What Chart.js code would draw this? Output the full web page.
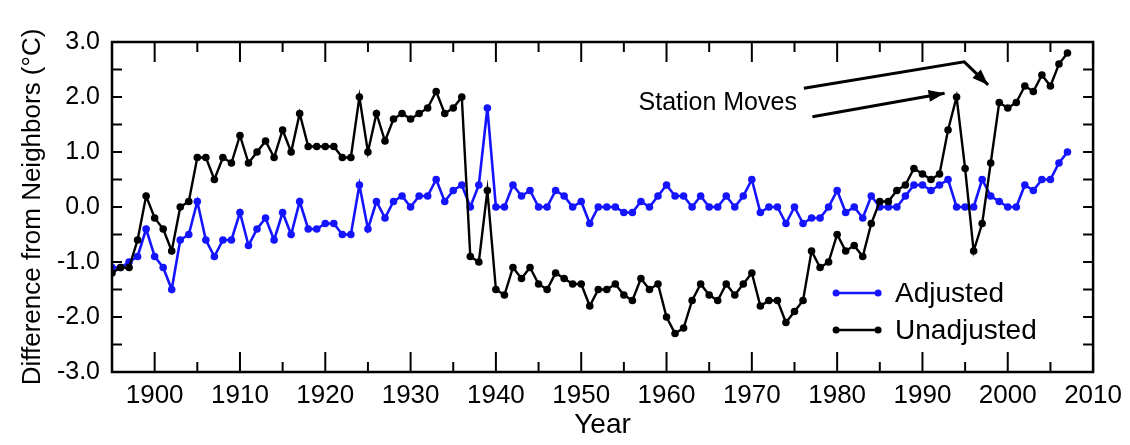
<!DOCTYPE html>
<html>
<head>
<meta charset="utf-8">
<script src="https://cdn.jsdelivr.net/npm/chart.js@4.4.1/dist/chart.umd.min.js"></script>
<style>
  body { margin: 0; background: #fff; }
  #wrap { width: 1130px; height: 445px; }
</style>
</head>
<body>
<div id="wrap"><canvas id="chart_neighbors" width="1130" height="445"></canvas></div>
<script>
var years = [1895, 1896, 1897, 1898, 1899, 1900, 1901, 1902, 1903, 1904,
  1905, 1906, 1907, 1908, 1909, 1910, 1911, 1912, 1913, 1914,
  1915, 1916, 1917, 1918, 1919, 1920, 1921, 1922, 1923, 1924,
  1925, 1926, 1927, 1928, 1929, 1930, 1931, 1932, 1933, 1934,
  1935, 1936, 1937, 1938, 1939, 1940, 1941, 1942, 1943, 1944,
  1945, 1946, 1947, 1948, 1949, 1950, 1951, 1952, 1953, 1954,
  1955, 1956, 1957, 1958, 1959, 1960, 1961, 1962, 1963, 1964,
  1965, 1966, 1967, 1968, 1969, 1970, 1971, 1972, 1973, 1974,
  1975, 1976, 1977, 1978, 1979, 1980, 1981, 1982, 1983, 1984,
  1985, 1986, 1987, 1988, 1989, 1990, 1991, 1992, 1993, 1994,
  1995, 1996, 1997, 1998, 1999, 2000, 2001, 2002, 2003, 2004,
  2005, 2006, 2007];

var adjusted = [-1.1, -1.1, -1.0, -0.9, -0.4, -0.9, -1.1, -1.5, -0.6, -0.5,
  0.1, -0.6, -0.9, -0.6, -0.6, -0.1, -0.7, -0.4, -0.2, -0.6,
  -0.1, -0.5, 0.1, -0.4, -0.4, -0.3, -0.3, -0.5, -0.5, 0.4,
  -0.4, 0.1, -0.2, 0.1, 0.2, 0.0, 0.2, 0.2, 0.5, 0.1,
  0.3, 0.4, 0.0, 0.4, 1.8, 0.0, 0.0, 0.4, 0.2, 0.3,
  0.0, 0.0, 0.3, 0.2, 0.0, 0.1, -0.3, 0.0, 0.0, 0.0,
  -0.1, -0.1, 0.1, 0.0, 0.2, 0.4, 0.2, 0.2, 0.0, 0.2,
  0.0, 0.0, 0.2, 0.0, 0.2, 0.5, -0.1, 0.0, 0.0, -0.3,
  0.0, -0.3, -0.2, -0.2, 0.0, 0.3, -0.1, 0.0, -0.2, 0.2,
  0.0, 0.0, 0.0, 0.2, 0.4, 0.4, 0.3, 0.4, 0.5, 0.0,
  0.0, 0.0, 0.5, 0.2, 0.1, 0.0, 0.0, 0.4, 0.3, 0.5,
  0.5, 0.8, 1.0];

var unadjusted = [-1.2, -1.1, -1.1, -0.6, 0.2, -0.2, -0.4, -0.8, 0.0, 0.1,
  0.9, 0.9, 0.5, 0.9, 0.8, 1.3, 0.8, 1.0, 1.2, 0.9,
  1.4, 1.0, 1.7, 1.1, 1.1, 1.1, 1.1, 0.9, 0.9, 2.0,
  1.0, 1.7, 1.2, 1.6, 1.7, 1.6, 1.7, 1.8, 2.1, 1.7,
  1.8, 2.0, -0.9, -1.0, 0.3, -1.5, -1.6, -1.1, -1.3, -1.1,
  -1.4, -1.5, -1.2, -1.3, -1.4, -1.4, -1.8, -1.5, -1.5, -1.4,
  -1.6, -1.7, -1.3, -1.5, -1.4, -2.0, -2.3, -2.2, -1.7, -1.4,
  -1.6, -1.7, -1.4, -1.6, -1.4, -1.2, -1.8, -1.7, -1.7, -2.1,
  -1.9, -1.7, -0.8, -1.1, -1.0, -0.5, -0.8, -0.7, -0.9, -0.3,
  0.1, 0.1, 0.3, 0.4, 0.7, 0.6, 0.5, 0.6, 1.4, 2.0,
  0.7, -0.8, -0.3, 0.8, 1.9, 1.8, 1.9, 2.2, 2.1, 2.4,
  2.2, 2.6, 2.8];

var x_tick_labels = [1900, 1910, 1920, 1930, 1940, 1950, 1960, 1970, 1980, 1990, 2000, 2010];
var y_tick_labels = [-3, -2, -1, 0, 1, 2, 3];
var series_names = ['Adjusted', 'Unadjusted'];

var blue = '#1414ff';
var black = '#000000';
var font_family = '"Liberation Sans", Arial, Helvetica, sans-serif';

function to_points(vals) {
  return vals.map(function (v, i) { return { x: years[i], y: v }; });
}

function draw_line(ctx, x1, y1, x2, y2) {
  ctx.beginPath();
  ctx.moveTo(x1, y1);
  ctx.lineTo(x2, y2);
  ctx.stroke();
}

function draw_arrow(ctx, pts) {
  ctx.beginPath();
  ctx.moveTo(pts[0][0], pts[0][1]);
  for (var i = 1; i < pts.length; i++) ctx.lineTo(pts[i][0], pts[i][1]);
  ctx.stroke();
  var n = pts.length;
  var ex = pts[n - 1][0], ey = pts[n - 1][1];
  var ang = Math.atan2(ey - pts[n - 2][1], ex - pts[n - 2][0]);
  var len = 16, half = 6;
  ctx.beginPath();
  ctx.moveTo(ex, ey);
  ctx.lineTo(ex - len * Math.cos(ang) + half * Math.sin(ang), ey - len * Math.sin(ang) - half * Math.cos(ang));
  ctx.lineTo(ex - len * Math.cos(ang) - half * Math.sin(ang), ey - len * Math.sin(ang) + half * Math.cos(ang));
  ctx.closePath();
  ctx.fill();
}

// frame, inward ticks, legend and the "Station Moves" note
var extras_plugin = {
  id: 'extras',
  afterDatasetsDraw: function (chart) {
    var ctx = chart.ctx;
    var a = chart.chartArea;
    var xs = chart.scales.x, ys = chart.scales.y;
    ctx.save();
    ctx.strokeStyle = '#000';
    ctx.fillStyle = '#000';
    ctx.lineWidth = 2;
    for (var yr = 1895; yr <= 2010; yr += 5) {
      var px = xs.getPixelForValue(yr);
      var len = yr % 10 === 0 ? 20 : 10;
      draw_line(ctx, px, a.top, px, a.top + len);
      draw_line(ctx, px, a.bottom, px, a.bottom - len);
    }
    for (var v = -3; v <= 3.001; v += 0.5) {
      var py = ys.getPixelForValue(v);
      draw_line(ctx, a.left, py, a.left + 10, py);
      draw_line(ctx, a.right, py, a.right - 10, py);
    }
    ctx.lineWidth = 2.5;
    ctx.strokeRect(a.left, a.top, a.right - a.left, a.bottom - a.top);

    // annotation, anchored in data units
    function P(x, y) { return [xs.getPixelForValue(x), ys.getPixelForValue(y)]; }
    ctx.lineWidth = 3;
    draw_arrow(ctx, [P(1976.1, 2.16), P(1994.9, 2.64), P(1997.7, 2.22)]);
    draw_arrow(ctx, [P(1977.1, 1.64), P(1992.6, 2.07)]);
    ctx.font = '25px ' + font_family;
    ctx.textAlign = 'center';
    ctx.textBaseline = 'middle';
    var tp = P(1966.0, 1.89);
    ctx.fillText('Station Moves', tp[0], tp[1]);

    // legend
    var colors = [blue, black];
    ctx.font = '28px ' + font_family;
    ctx.textAlign = 'left';
    for (var i = 0; i < series_names.length; i++) {
      var ly = a.bottom - 79 + i * 37;
      var lx0 = a.right - 257, lx1 = a.right - 215;
      ctx.strokeStyle = colors[i];
      ctx.fillStyle = colors[i];
      ctx.lineWidth = 2.4;
      draw_line(ctx, lx0, ly, lx1, ly);
      ctx.beginPath(); ctx.arc(lx0, ly, 3.5, 0, Math.PI * 2); ctx.fill();
      ctx.beginPath(); ctx.arc(lx1, ly, 3.5, 0, Math.PI * 2); ctx.fill();
      ctx.fillStyle = '#000';
      ctx.fillText(series_names[i], a.right - 198, ly + 1);
    }
    ctx.restore();
  }
};

function make_chart() {
  var ctx = document.getElementById('chart_neighbors').getContext('2d');
  new Chart(ctx, {
    type: 'line',
    data: {
      datasets: [{
        label: series_names[1],
        data: to_points(unadjusted),
        borderColor: black,
        backgroundColor: black,
        borderWidth: 2.4,
        pointRadius: 3.8,
        pointBorderWidth: 0,
        tension: 0
      }, {
        label: series_names[0],
        data: to_points(adjusted),
        borderColor: blue,
        backgroundColor: blue,
        borderWidth: 2.6,
        pointRadius: 3.8,
        pointBorderWidth: 0,
        tension: 0
      }]
    },
    options: {
      responsive: false,
      animation: false,
      layout: { padding: { left: 0, right: 33, top: 42, bottom: 0 } },
      plugins: { legend: { display: false }, tooltip: { enabled: false } },
      scales: {
        x: {
          type: 'linear',
          min: 1895,
          max: 2010,
          afterBuildTicks: function (s) { s.ticks = x_tick_labels.map(function (t) { return { value: t }; }); },
          afterFit: function (s) { s.height = 73; },
          grid: { display: false, drawTicks: false },
          border: { display: false },
          ticks: {
            color: '#000',
            padding: 8,
            maxRotation: 0,
            autoSkip: false,
            font: { family: font_family, size: 26 },
            callback: function (v) { return String(v); }
          },
          title: {
            display: true,
            text: 'Year',
            color: '#000',
            font: { family: font_family, size: 28 },
            padding: { top: 0, bottom: 3 }
          }
        },
        y: {
          min: -3,
          max: 3,
          afterBuildTicks: function (s) { s.ticks = y_tick_labels.map(function (t) { return { value: t }; }); },
          afterFit: function (s) { s.width = 112; },
          grid: { display: false, drawTicks: false },
          border: { display: false },
          ticks: {
            color: '#000',
            padding: 12,
            autoSkip: false,
            font: { family: font_family, size: 25 },
            callback: function (v) { return Number(v).toFixed(1); }
          },
          title: {
            display: true,
            text: 'Difference from Neighbors (°C)',
            color: '#000',
            font: { family: font_family, size: 26 },
            padding: { top: 17, bottom: 0 }
          }
        }
      }
    },
    plugins: [extras_plugin]
  });
}

make_chart();
</script>
</body>
</html>
